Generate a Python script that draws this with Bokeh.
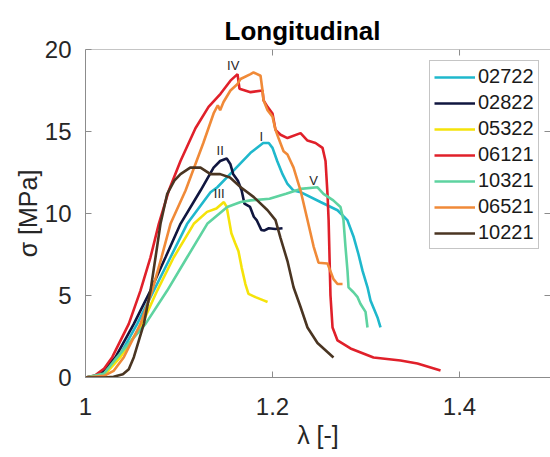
from bokeh.plotting import figure
from bokeh.models import (LinearAxis, FixedTicker, Legend, LegendItem, Title, Span,
                          Range1d, ColumnDataSource)
from bokeh.core.properties import value
from bokeh.embed import file_html
from bokeh.resources import INLINE

# ---------------- data ----------------
series_names = ["02722", "02822", "05322", "06121", "10321", "06521", "10221"]
series_colors = ["#1FB8CC", "#10163F", "#F5E30A", "#E0202A", "#5ED3A0", "#F08A38", "#4A3522"]

x_02722 = [1.0, 1.018, 1.0356, 1.0553, 1.073, 1.0909, 1.1087, 1.1337, 1.141, 1.158, 1.1765,
           1.19, 1.196, 1.2, 1.205, 1.2107, 1.216, 1.2225, 1.23, 1.2513, 1.2695, 1.28,
           1.2866, 1.292, 1.2963, 1.3016, 1.3048, 1.3123, 1.3155]
y_02722 = [0.0, 0.15, 1.24, 3.27, 5.3, 7.33, 9.37, 11.3, 11.6, 12.6, 13.7,
           14.3, 14.3, 14.0, 13.2, 12.4, 11.8, 11.4, 11.3, 10.7, 10.2, 9.6,
           8.6, 7.5, 6.5, 5.5, 4.7, 3.66, 3.05]

x_02822 = [1.0, 1.015, 1.0321, 1.0517, 1.0695, 1.0856, 1.1016, 1.123, 1.137, 1.144, 1.151,
           1.155, 1.158, 1.163, 1.167, 1.17, 1.176, 1.18, 1.183, 1.188, 1.191, 1.196,
           1.203, 1.2107]
y_02822 = [0.0, 0.15, 1.24, 3.27, 5.3, 7.33, 9.37, 11.4, 12.8, 13.2, 13.35,
           13.0, 12.4, 12.0, 11.4, 10.6, 10.4, 9.8, 9.6, 9.0, 8.96, 9.1,
           9.05, 9.1]

x_05322 = [1.0, 1.02, 1.0374, 1.0606, 1.0767, 1.0944, 1.1158, 1.13, 1.14, 1.148, 1.151,
           1.153, 1.156, 1.16, 1.1636, 1.167, 1.171, 1.1743, 1.1818, 1.1904, 1.1947]
y_05322 = [0.0, 0.15, 1.24, 3.27, 5.3, 7.33, 9.37, 10.1, 10.3, 10.7, 10.4,
           9.76, 8.8, 8.2, 7.7, 6.7, 5.7, 5.1, 4.9, 4.7, 4.6]

x_06121 = [1.0, 1.01, 1.02, 1.0286, 1.0463, 1.0588, 1.0695, 1.0784, 1.0891, 1.1016, 1.1176,
           1.1316, 1.1444, 1.155, 1.1626, 1.1647, 1.1765, 1.1893, 1.1904, 1.1947, 1.2,
           1.2032, 1.2086, 1.216, 1.23, 1.2374, 1.246, 1.2535, 1.2567, 1.2588, 1.26,
           1.262, 1.2642, 1.2695, 1.2834, 1.308, 1.3369, 1.355, 1.3797]
y_06121 = [0.0, 0.12, 0.55, 1.24, 3.27, 5.3, 7.33, 9.37, 11.4, 13.2, 15.2,
           16.5, 17.3, 18.1, 18.5, 17.6, 17.4, 17.5, 16.9, 16.5, 16.1,
           15.1, 14.8, 14.6, 14.9, 14.45, 14.3, 14.0, 13.2, 11.2, 9.6,
           5.0, 3.05, 2.26, 1.77, 1.22, 1.04, 0.85, 0.43]

x_10321 = [1.0, 1.02, 1.0339, 1.0642, 1.0874, 1.1087, 1.1302, 1.1516, 1.166, 1.1765, 1.1968,
           1.2145, 1.23, 1.2481, 1.2545, 1.265, 1.2727, 1.2759, 1.278, 1.2802, 1.2813,
           1.2866, 1.291, 1.294, 1.2995, 1.3016]
y_10321 = [0.0, 0.25, 1.24, 3.27, 5.3, 7.33, 9.37, 10.4, 10.7, 10.8, 10.9,
           11.2, 11.5, 11.6, 11.2, 10.8, 10.4, 9.6, 8.0, 6.5, 5.5,
           5.2, 4.9, 4.5, 4.0, 3.05]

x_06521 = [1.0, 1.02, 1.03, 1.041, 1.0588, 1.0713, 1.0813, 1.0909, 1.107, 1.126, 1.137,
           1.1415, 1.144, 1.1476, 1.155, 1.1626, 1.1658, 1.1765, 1.1797, 1.1872, 1.1893,
           1.1904, 1.1947, 1.2, 1.2032, 1.2064, 1.2118, 1.216, 1.2225, 1.23, 1.2374,
           1.2439, 1.2492, 1.2588, 1.2652, 1.2695, 1.2749]
y_06521 = [0.0, 0.1, 0.4, 1.24, 3.27, 5.3, 7.33, 9.37, 11.4, 14.3, 16.1,
           16.6, 16.3, 16.8, 17.5, 17.9, 18.2, 18.5, 18.6, 18.4, 17.5,
           16.9, 16.3, 15.9, 15.1, 14.6, 13.8, 13.6, 12.8, 11.4, 9.6,
           8.0, 7.0, 6.95, 6.0, 5.7, 5.7]

x_10221 = [1.0, 1.02, 1.03, 1.04, 1.0463, 1.0517, 1.0624, 1.0695, 1.0749, 1.0802, 1.0874,
           1.095, 1.1016, 1.112, 1.123, 1.1337, 1.144, 1.1545, 1.166, 1.18, 1.1947,
           1.2032, 1.2086, 1.216, 1.2225, 1.23, 1.2374, 1.2481, 1.2652]
y_10221 = [0.0, 0.0, 0.05, 0.2, 0.5, 1.24, 3.27, 5.3, 7.33, 9.37, 11.2,
           12.0, 12.4, 12.8, 12.8, 12.4, 12.4, 12.2, 11.6, 11.0, 10.2,
           9.6, 8.5, 7.1, 5.5, 4.3, 3.05, 2.1, 1.22]

series_x = [x_02722, x_02822, x_05322, x_06121, x_10321, x_06521, x_10221]
series_y = [y_02722, y_02822, y_05322, y_06121, y_10321, y_06521, y_10221]

peak_labels = ["I", "II", "III", "IV", "V"]
peak_label_x = [1.188, 1.144, 1.143, 1.158, 1.244]
peak_label_y = [14.7, 13.85, 11.2, 19.0, 12.0]

x_ticks = [1.0, 1.2, 1.4]
x_tick_labels = ["1", "1.2", "1.4"]
y_ticks = [0, 5, 10, 15, 20]
y_tick_labels = ["0", "5", "10", "15", "20"]

title_text = "Longitudinal"
x_label = "λ [-]"
y_label = "σ [MPa]"

# ---------------- figure ----------------
FONT = "Liberation Sans"
TXT = "#262626"
AX = "#8c8c8c"
X0, X1, Y0, Y1 = 1.0, 1.4973, 0.0, 20.0
TICK_X = 6 * (X1 - X0) / 465.0   # 6 px in data units
TICK_Y = 6 * (Y1 - Y0) / 328.0

p = figure(width=550, height=457, output_backend="svg", toolbar_location=None,
           x_range=Range1d(X0, X1), y_range=Range1d(Y0, Y1),
           x_axis_location=None, y_axis_location=None, title=None,
           min_border_left=85, min_border_top=49, min_border_bottom=80, min_border_right=0)
p.outline_line_color = None
p.grid.visible = False
p.background_fill_color = "white"
p.border_fill_color = "white"

def make_axis(ticks, labels, standoff):
    ax = LinearAxis(ticker=FixedTicker(ticks=ticks))
    ax.major_label_overrides = {t: l for t, l in zip(ticks, labels)}
    ax.major_tick_in = 6
    ax.major_tick_out = 0
    ax.minor_tick_line_color = None
    ax.major_tick_line_color = AX
    ax.axis_line_color = AX
    ax.axis_line_width = 1
    ax.major_label_text_font = FONT
    ax.major_label_text_font_size = "24px"
    ax.major_label_text_color = TXT
    ax.major_label_standoff = standoff
    ax.axis_label_text_font = FONT
    ax.axis_label_text_font_size = "25px"
    ax.axis_label_text_font_style = "normal"
    ax.axis_label_text_color = TXT
    return ax

bottom = make_axis(x_ticks, x_tick_labels, 20)
bottom.axis_label = x_label
bottom.axis_label_standoff = 3
left = make_axis(y_ticks, y_tick_labels, 14)
left.axis_label = y_label
left.axis_label_standoff = 0
p.add_layout(bottom, "below")
p.add_layout(left, "left")

# top frame line and inward ticks on the top and right sides (MATLAB box)
p.add_layout(Span(location=Y1, dimension="width", line_color=AX, line_width=1))
top_ticks = [t for t in x_ticks if X0 < t < X1]
p.segment(x0=top_ticks, y0=[Y1] * len(top_ticks), x1=top_ticks, y1=[Y1 - TICK_Y] * len(top_ticks),
          line_color=AX, line_width=1)
right_ticks = [t for t in y_ticks if Y0 < t < Y1]
p.segment(x0=[X1] * len(right_ticks), y0=right_ticks, x1=[X1 - TICK_X] * len(right_ticks), y1=right_ticks,
          line_color=AX, line_width=1)

items = []
for name, col, xs, ys in zip(series_names, series_colors, series_x, series_y):
    r = p.line(xs, ys, line_color=col, line_width=2.6)
    items.append(LegendItem(label=name, renderers=[r]))

src = ColumnDataSource(dict(x=peak_label_x, y=peak_label_y, t=peak_labels))
p.text(x="x", y="y", text="t", source=src, text_font=value(FONT), text_font_size="13px",
       text_color=TXT, text_align="center", text_baseline="middle")

legend = Legend(items=items, location=(344, 128))
legend.label_text_font = FONT
legend.label_text_font_size = "20px"
legend.label_text_color = "#1a1a1a"
legend.glyph_width = 41
legend.glyph_height = 20
legend.label_height = 20
legend.label_standoff = 3
legend.spacing = 3
legend.padding = 4
legend.margin = 0
legend.border_line_color = "#8c8c8c"
legend.border_line_width = 1
legend.background_fill_alpha = 1
p.add_layout(legend, "center")

title = Title(text=title_text, align="left", offset=139, standoff=8,
              text_font=FONT, text_font_size="26px", text_font_style="bold", text_color="black")
p.add_layout(title, "above")

open("out.html", "w").write(file_html(p, INLINE))
